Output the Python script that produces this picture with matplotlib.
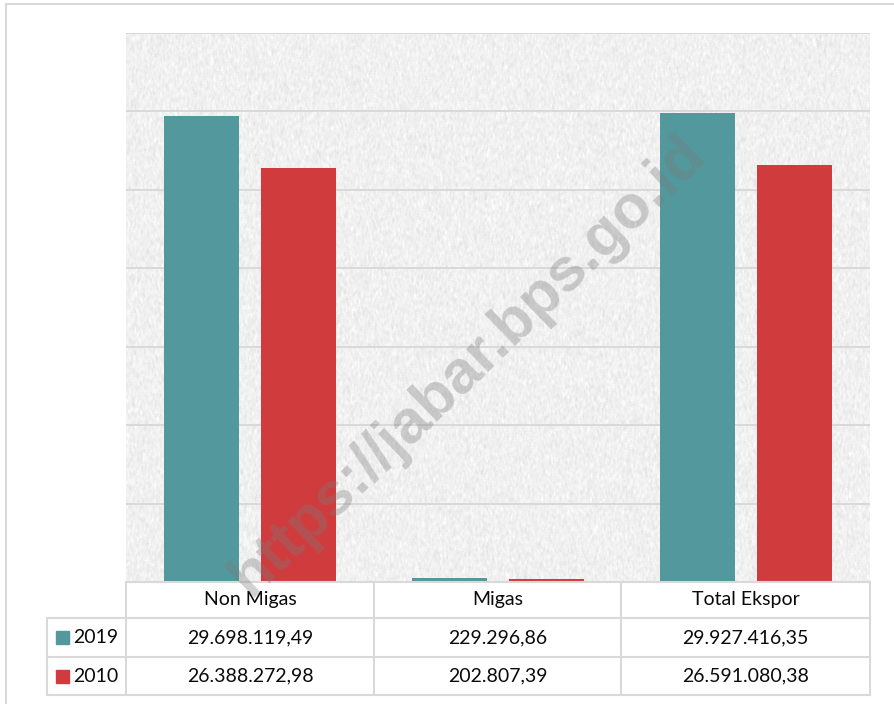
import numpy as np
import matplotlib
matplotlib.use("Agg")
import matplotlib.pyplot as plt
from matplotlib.patches import Rectangle

# ---- data ----
categories = ["Non Migas", "Migas", "Total Ekspor"]
series_names = ["2019", "2010"]
values_2019 = [29698119.49, 229296.86, 29927416.35]
values_2010 = [26388272.98, 202807.39, 26591080.38]
labels_2019 = ["29.698.119,49", "229.296,86", "29.927.416,35"]
labels_2010 = ["26.388.272,98", "202.807,39", "26.591.080,38"]
y_ticks = [0, 5e6, 10e6, 15e6, 20e6, 25e6, 30e6, 35e6]

TEAL = "#52989C"
RED = "#D03C3E"
GRID = "#D9D9D9"

W, H = 894, 704
fig = plt.figure(figsize=(W / 100, H / 100), dpi=100)
fig.patch.set_facecolor("white")

# plot area in pixel coords
px_l, px_r, px_t, px_b = 126, 870, 33, 582
ax = fig.add_axes([px_l / W, 1 - px_b / H, (px_r - px_l) / W, (px_b - px_t) / H])

# textured background
rng = np.random.default_rng(3)
nh, nw = (px_b - px_t), (px_r - px_l)
noise = rng.normal(0, 1, (nh, nw))
k = np.ones(4) / 4
noise = np.apply_along_axis(lambda c: np.convolve(c, k, mode="same"), 0, noise)
noise = np.apply_along_axis(lambda r: np.convolve(r, np.ones(2) / 2, mode="same"), 1, noise)
tex = np.clip(0.94 + 0.045 * noise, 0.78, 1.0)
ax.imshow(tex, cmap="gray", vmin=0, vmax=1, extent=(-0.5, 2.5, 0, 35e6),
          aspect="auto", zorder=0, interpolation="bilinear")

x = np.arange(len(categories))
bw = 0.302
off = 0.197
ax.bar(x - off, values_2019, bw, color=TEAL, zorder=3)
ax.bar(x + off, values_2010, bw, color=RED, zorder=3)

ax.set_xlim(-0.5, 2.5)
ax.set_ylim(0, 35e6)
ax.set_yticks(y_ticks)
ax.yaxis.grid(True, color=GRID, lw=1.4, zorder=1)
ax.set_axisbelow(False)
ax.tick_params(left=False, bottom=False, labelleft=False, labelbottom=False)
for s in ax.spines.values():
    s.set_visible(False)

# overlay axes for table, frame, watermark
ov = fig.add_axes([0, 0, 1, 1], facecolor="none")
ov.set_xlim(0, W)
ov.set_ylim(H, 0)
ov.axis("off")

lw = 1.5
# outer frame
ov.plot([6, W], [4, 4], color=GRID, lw=lw)
ov.plot([6, 6], [4, H], color=GRID, lw=lw)

# table grid
col_x = [126, 374, 621, 870]
row_y = [582, 618, 657, 695]
ov.plot([126, 870], [582, 582], color=GRID, lw=lw)
for yy in row_y[1:]:
    ov.plot([47, 870], [yy, yy], color=GRID, lw=lw)
for xx in col_x:
    ov.plot([xx, xx], [582, 695], color=GRID, lw=lw)
ov.plot([47, 47], [618, 695], color=GRID, lw=lw)

font = "Lato"
fs = 14
tc = "#0a0a0a"
centers = [(col_x[i] + col_x[i + 1]) / 2 for i in range(3)]
for i, c in enumerate(categories):
    ov.text(centers[i], 600, c, ha="center", va="center", fontsize=fs, family=font, color=tc)
    ov.text(centers[i], 637.5, labels_2019[i], ha="center", va="center", fontsize=fs, family=font, color=tc)
    ov.text(centers[i], 676, labels_2010[i], ha="center", va="center", fontsize=fs, family=font, color=tc)

for name, col, yc in [(series_names[0], TEAL, 637.5), (series_names[1], RED, 676)]:
    ov.add_patch(Rectangle((56, yc - 6.5), 13, 13, color=col))
    ov.text(73, yc, name, ha="left", va="center", fontsize=fs, family=font, color=tc)

# watermark
ov.text(468, 366, "https://jabar.bps.go.id", rotation=44, ha="center", va="center",
        fontsize=44, fontweight="bold", family="Liberation Sans", color="#7a7a7a",
        alpha=0.35, zorder=10)

fig.savefig("out.png", dpi=100)
